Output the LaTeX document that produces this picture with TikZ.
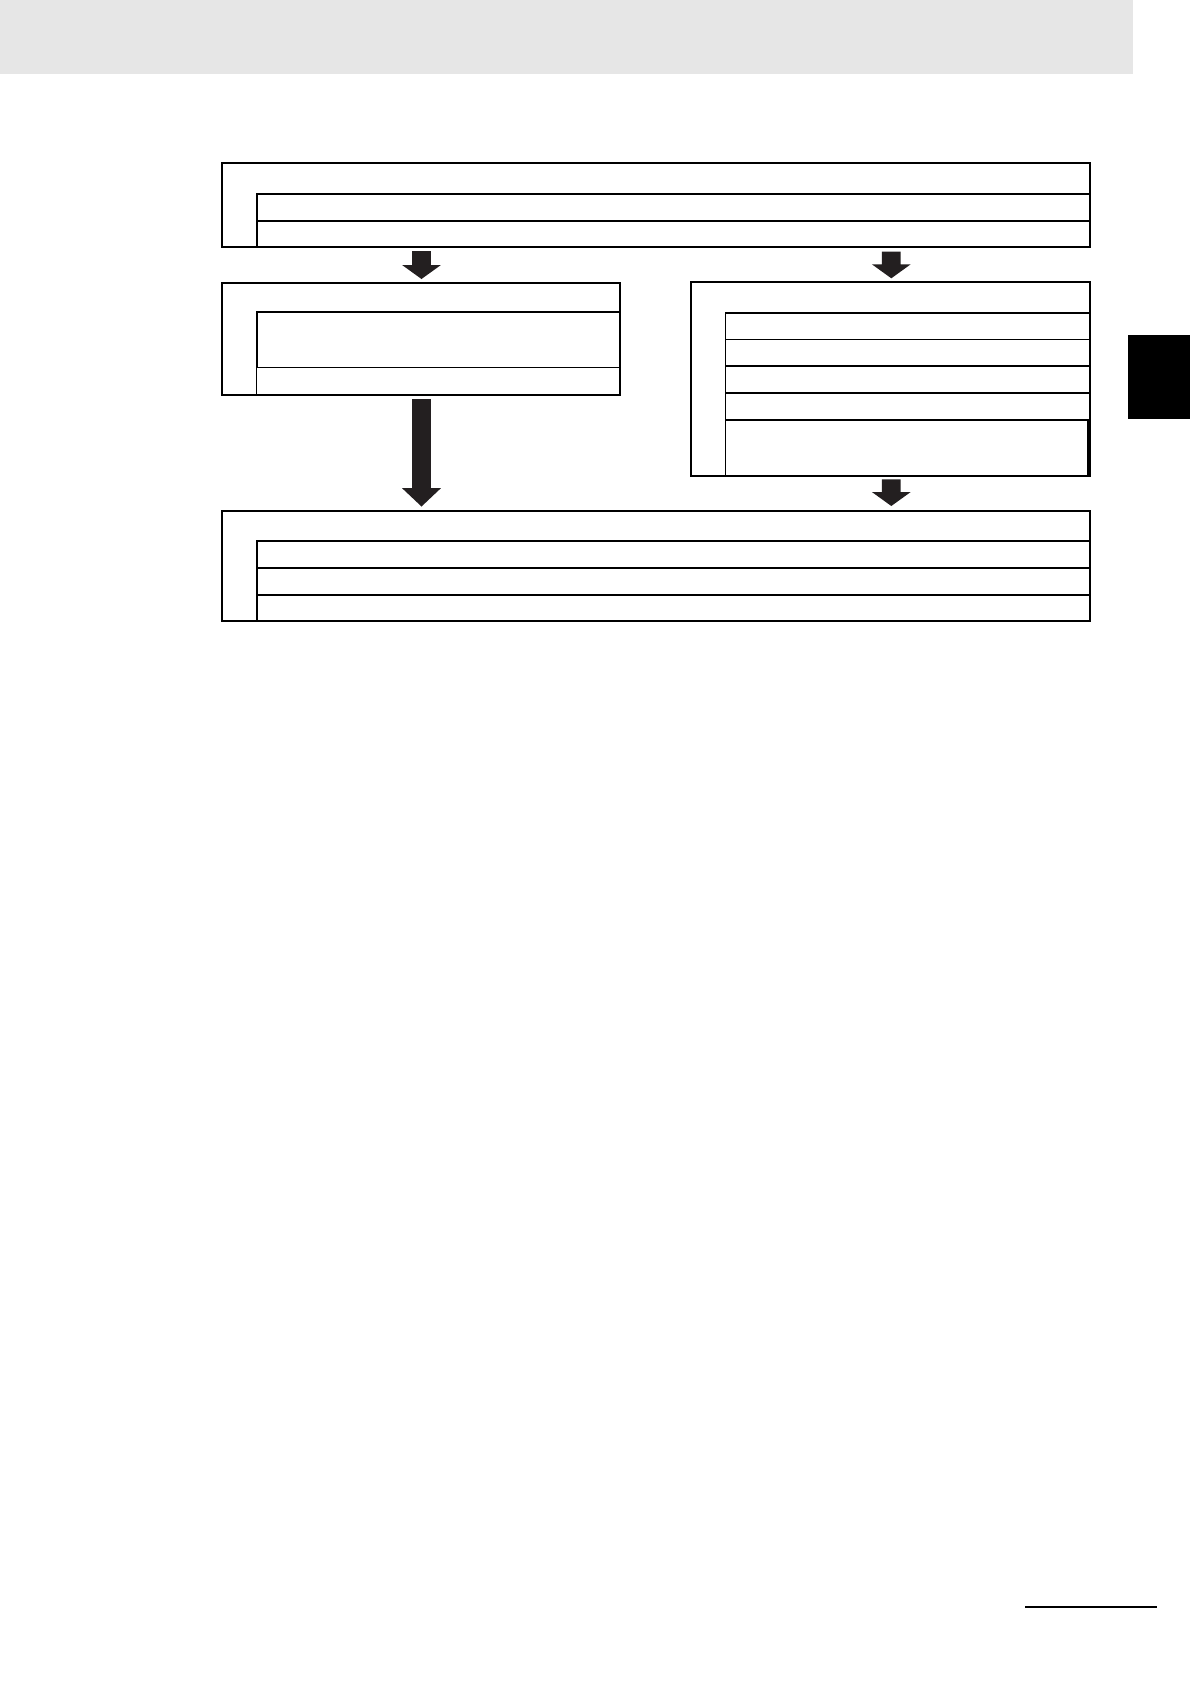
\documentclass[tikz,border=0pt]{standalone}
\usetikzlibrary{calc}
\definecolor{greybar}{HTML}{E6E6E6}
\definecolor{arrowfill}{HTML}{231F20}
\newcommand{\drawblockarrow}[3]{%
  \fill[fatarrow] let \p1=(#1), \p2=(#2) in
    (\x1-9.4pt,\y1) -- (\x1+9.4pt,\y1) -- (\x1+9.4pt,\y2+#3) -- (\x1+19.4pt,\y2+#3)
    -- (\x2,\y2) -- (\x1-19.4pt,\y2+#3) -- (\x1-9.4pt,\y2+#3) -- cycle;}
\begin{document}
\begin{tikzpicture}[x=1pt,y=-1pt,
  box/.style={draw=black, line width=2pt, inner sep=0pt, outer sep=0pt, anchor=north west},
  cell/.style={draw=black, line width=1.6pt, inner sep=0pt, outer sep=0pt, anchor=north west},
  thincell/.style={cell, line width=1.2pt},
  fatarrow/.style={fill=arrowfill, draw=none},
  solidblock/.style={inner sep=0pt, outer sep=0pt, anchor=north west, draw=none}]
\useasboundingbox (0,0) rectangle (1190,1684);
\fill[white] (0,0) rectangle (1190,1684);
% header bar and side tab
\node[solidblock, fill=greybar, minimum width=1133pt, minimum height=73.5pt] (header) at (0,0) {};
\node[solidblock, fill=black, minimum width=62pt, minimum height=84.3pt] (tab) at (1128,335) {};
% top box
\node[box, minimum width=868.6pt, minimum height=84pt] (topbox) at (221.7,163.3) {};
\node[cell, minimum width=833.6pt, minimum height=27pt] (topA) at (256.7,193.7) {};
\node[cell, minimum width=833.6pt, minimum height=26.6pt] (topB) at (256.7,220.7) {};
% left middle box
\node[box, minimum width=398.3pt, minimum height=112.3pt] (leftbox) at (221.7,282.7) {};
\node[cell, minimum width=363.3pt, minimum height=55.3pt] (leftA) at (256.7,312) {};
\node[thincell, minimum width=363.3pt, minimum height=27.7pt] (leftB) at (256.7,367.3) {};
% right middle box
\node[box, minimum width=398.5pt, minimum height=194pt] (rightbox) at (691,281.7) {};
\node[cell, minimum width=364.2pt, minimum height=26.6pt] (rightA) at (725.3,312.7) {};
\node[thincell, minimum width=364.2pt, minimum height=26.7pt] (rightB) at (725.3,339.3) {};
\node[cell, minimum width=364.2pt, minimum height=27pt] (rightC) at (725.3,366) {};
\node[cell, minimum width=364.2pt, minimum height=27pt] (rightD) at (725.3,393) {};
\node[cell, minimum width=362.7pt, minimum height=55.7pt] (rightE) at (725.3,420) {};
% bottom box
\node[box, minimum width=868.6pt, minimum height=110.3pt] (botbox) at (221.7,510.7) {};
\node[cell, minimum width=833.6pt, minimum height=27pt] (botA) at (256.7,541) {};
\node[cell, minimum width=833.6pt, minimum height=26.7pt] (botB) at (256.7,568) {};
\node[cell, minimum width=833.6pt, minimum height=26.3pt] (botC) at (256.7,594.7) {};
% arrow end points
\coordinate (a1s) at (421.5,251);
\coordinate (a1e) at (421.5,279);
\coordinate (a2s) at (891.3,251.5);
\coordinate (a2e) at (891.3,278.3);
\coordinate (a3s) at (421.5,399);
\coordinate (a3e) at (421.5,506.5);
\coordinate (a4s) at (891.3,479.3);
\coordinate (a4e) at (891.3,506);
\drawblockarrow{a1s}{a1e}{14pt}
\drawblockarrow{a2s}{a2e}{14pt}
\drawblockarrow{a3s}{a3e}{18.3pt}
\drawblockarrow{a4s}{a4e}{14pt}
% footer rule
\coordinate (footL) at (1025,1606.7);
\coordinate (footR) at (1156.7,1606.7);
\draw[line width=2pt] (footL) -- (footR);
\end{tikzpicture}
\end{document}
